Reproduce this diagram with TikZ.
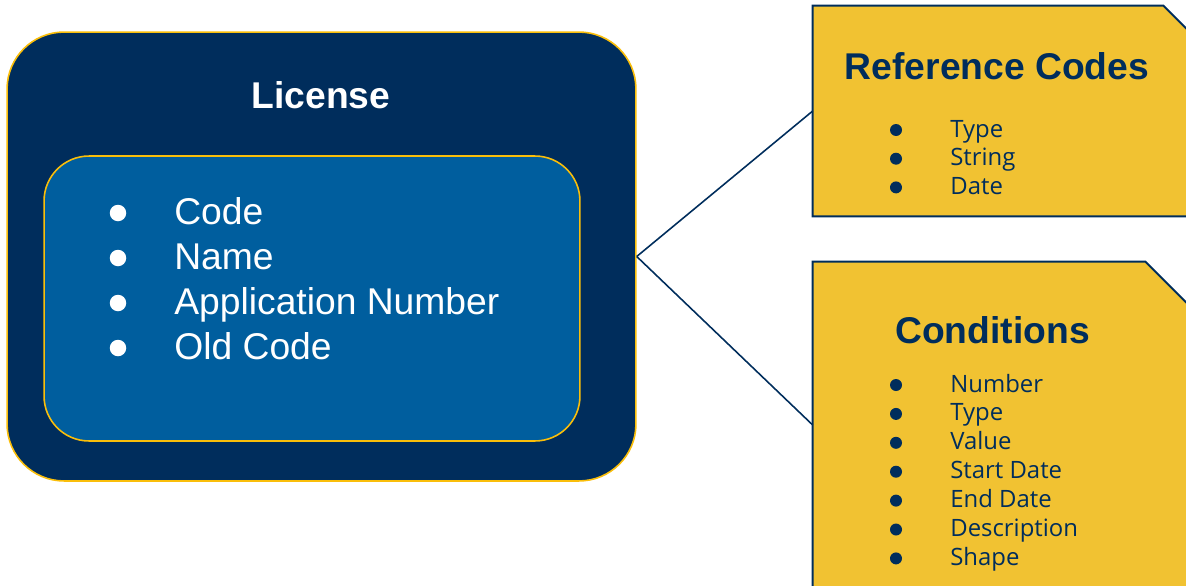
\documentclass[tikz,border=0pt]{standalone}
\usepackage{fontspec}
\setmainfont{Liberation Sans}
\newfontfamily\opensans{Open Sans}

\definecolor{navy}{RGB}{0,45,92}
\definecolor{midblue}{RGB}{0,94,158}
\definecolor{gold}{RGB}{241,194,50}
\definecolor{goldline}{RGB}{250,190,10}

\tikzset{
  entity/.style={draw=goldline,line width=0.9pt,inner sep=0pt},
  notebox/.style={draw=navy,fill=gold,line width=1.1pt},
  bigtext/.style={inner sep=0pt,font=\fontsize{21.2}{25}\selectfont},
  bigtitle/.style={inner sep=0pt,anchor=base,font=\bfseries\fontsize{21.2}{25}\selectfont},
  smalltext/.style={inner sep=0pt,text=navy,font=\opensans\fontsize{13.6}{16}\selectfont},
  link/.style={draw=navy,line width=0.9pt}
}

\begin{document}
\begin{tikzpicture}[x=0.02cm,y=-0.02cm]

  \useasboundingbox (0,0) rectangle (1186,585);
  \clip (0,0) rectangle (1186,585);

  \node at (321.5,256.5) [entity,fill=navy,rounded corners=1.14cm,
    minimum width=12.58cm,minimum height=8.98cm] (license) {};
  \node at (312,298.5) [entity,fill=midblue,rounded corners=0.9cm,
    minimum width=10.72cm,minimum height=5.7cm] (fields) {};

  \node at (1004,111) [inner sep=0pt,minimum width=7.64cm,minimum height=4.2cm] (refcodes) {};
  \node at (1004,425) [inner sep=0pt,minimum width=7.64cm,minimum height=6.52cm] (conditions) {};

  \draw[notebox] (refcodes.south west) |- ([xshift=-0.64cm]refcodes.north east)
    -- ([yshift=-0.64cm]refcodes.north east) |- (refcodes.south west) -- cycle;
  \draw[notebox] (conditions.south west) |- ([xshift=-1cm]conditions.north east)
    -- ([yshift=-1cm]conditions.north east) |- (conditions.south west) -- cycle;

  \draw[link] (license.east) -- (refcodes.west);
  \draw[link] (license.east) -- (conditions.west);

  \node at (321,108) [bigtitle,text=white] (licensetitle) {License};
  \node at (997,79) [bigtitle,text=navy] (reftitle) {Reference Codes};
  \node at (992.5,343) [bigtitle,text=navy] (condtitle) {Conditions};

  \foreach \field [count=\i] in {Code,Name,Application Number,Old Code} {
    \node at (118,168+45*\i) [circle,fill=white,inner sep=0pt,minimum size=0.33cm] (fielddot\i) {};
    \node at (174,179+45*\i) [bigtext,anchor=base west,text=white] (field\i) {\field};
  }

  \foreach \item [count=\i] in {Type,String,Date} {
    \node at (896,101.3+28.7*\i) [circle,fill=navy,inner sep=0pt,minimum size=0.24cm] (refdot\i) {};
    \node at (950,108.3+28.7*\i) [smalltext,anchor=base west] (refitem\i) {\item};
  }

  \foreach \item [count=\i] in {Number,Type,Value,Start Date,End Date,Description,Shape} {
    \node at (896,356.1+28.9*\i) [circle,fill=navy,inner sep=0pt,minimum size=0.24cm] (conddot\i) {};
    \node at (950,363.1+28.9*\i) [smalltext,anchor=base west] (conditem\i) {\item};
  }

\end{tikzpicture}
\end{document}
